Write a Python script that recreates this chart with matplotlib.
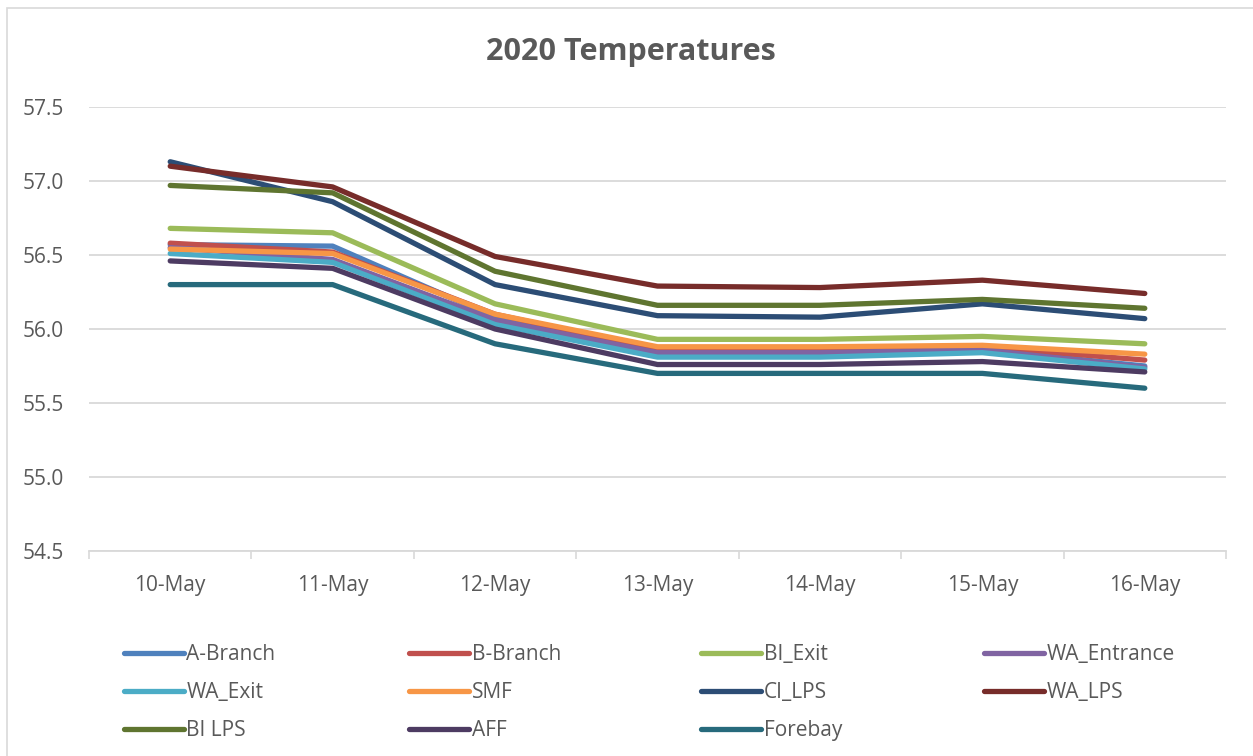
import numpy as np
import matplotlib.pyplot as plt
from matplotlib.patches import Rectangle

# Dates and series values (deg F)
dates = ["10-May", "11-May", "12-May", "13-May", "14-May", "15-May", "16-May"]

a_branch = [56.57, 56.56, 56.08, 55.84, 55.84, 55.86, 55.75]
b_branch = [56.58, 56.52, 56.10, 55.86, 55.86, 55.88, 55.79]
bi_exit = [56.68, 56.65, 56.17, 55.93, 55.93, 55.95, 55.90]
wa_entrance = [56.55, 56.47, 56.06, 55.84, 55.84, 55.86, 55.74]
wa_exit = [56.51, 56.45, 56.03, 55.81, 55.81, 55.84, 55.73]
smf = [56.54, 56.51, 56.10, 55.88, 55.88, 55.89, 55.83]
ci_lps = [57.13, 56.86, 56.30, 56.09, 56.08, 56.17, 56.07]
wa_lps = [57.10, 56.96, 56.49, 56.29, 56.28, 56.33, 56.24]
bi_lps = [56.97, 56.92, 56.39, 56.16, 56.16, 56.20, 56.14]
aff = [56.46, 56.41, 56.00, 55.76, 55.76, 55.78, 55.71]
forebay = [56.30, 56.30, 55.90, 55.70, 55.70, 55.70, 55.60]

names = ["A-Branch", "B-Branch", "BI_Exit", "WA_Entrance", "WA_Exit", "SMF",
         "CI_LPS", "WA_LPS", "BI LPS", "AFF", "Forebay"]
series = [a_branch, b_branch, bi_exit, wa_entrance, wa_exit, smf,
          ci_lps, wa_lps, bi_lps, aff, forebay]
colors = ["#4F81BD", "#C0504D", "#9BBB59", "#8064A2", "#4BACC6", "#F79646",
          "#2C4D75", "#772C2A", "#5F7530", "#4D3B62", "#276A7C"]

plt.rcParams['font.family'] = ['Open Sans', 'DejaVu Sans']
text_color = "#595959"
W, H = 1253, 756

fig = plt.figure(figsize=(12.53, 7.56), dpi=100)
ax = fig.add_axes([89 / W, 1 - 551 / H, (1226 - 89) / W, (551 - 107) / H])

x = np.arange(len(dates))
handles = []
for name, vals, c in zip(names, series, colors):
    h, = ax.plot(x, vals, color=c, lw=3.8, solid_capstyle='round',
                 solid_joinstyle='round', label=name)
    handles.append(h)

ax.set_xlim(-0.5, len(dates) - 0.5)
ax.set_ylim(54.5, 57.5)
yt = np.arange(54.5, 57.51, 0.5)
ax.set_yticks(yt)
ax.set_yticklabels([f"{v:.1f}" for v in yt])
ax.set_xticks(x)
ax.set_xticklabels(dates)
ax.set_xticks(np.arange(-0.5, len(dates)), minor=True)
ax.tick_params(axis='x', which='major', length=0, pad=17, labelsize=15, labelcolor=text_color)
ax.tick_params(axis='x', which='minor', length=6, color="#D9D9D9", width=1.2)
ax.tick_params(axis='y', length=0, pad=18, labelsize=15, labelcolor=text_color)
ax.grid(axis='y', color="#D9D9D9", lw=1.3)
ax.set_axisbelow(True)
for s in ["top", "right", "left"]:
    ax.spines[s].set_visible(False)
ax.spines["bottom"].set_color("#D9D9D9")
ax.spines["bottom"].set_linewidth(1.3)

fig.text(631 / W, 1 - 52 / H, "2020 Temperatures", ha='center', va='center',
         fontsize=22, fontweight='bold', color=text_color)

# legend: 4 equal-width columns filled row by row, like Excel
col_x = [124, 409, 701, 984]
for j, cx in enumerate(col_x):
    idx = list(range(j, len(names), 4))
    leg = fig.legend([handles[i] for i in idx], [names[i] for i in idx],
                     loc='upper left', bbox_to_anchor=(cx / W, 1 - 644 / H),
                     frameon=False, fontsize=15, handlelength=2.9, handletextpad=0.1,
                     labelspacing=0.82, labelcolor=text_color, borderpad=0,
                     borderaxespad=0)
    for line in leg.get_lines():
        line.set_linewidth(3.8)

# chart border
fig.add_artist(Rectangle((7 / W, -0.1), 1.2, 1 - 8 / H + 0.1, transform=fig.transFigure,
                         fill=False, edgecolor="#D9D9D9", lw=1.2))

fig.savefig("out.png", dpi=100)
